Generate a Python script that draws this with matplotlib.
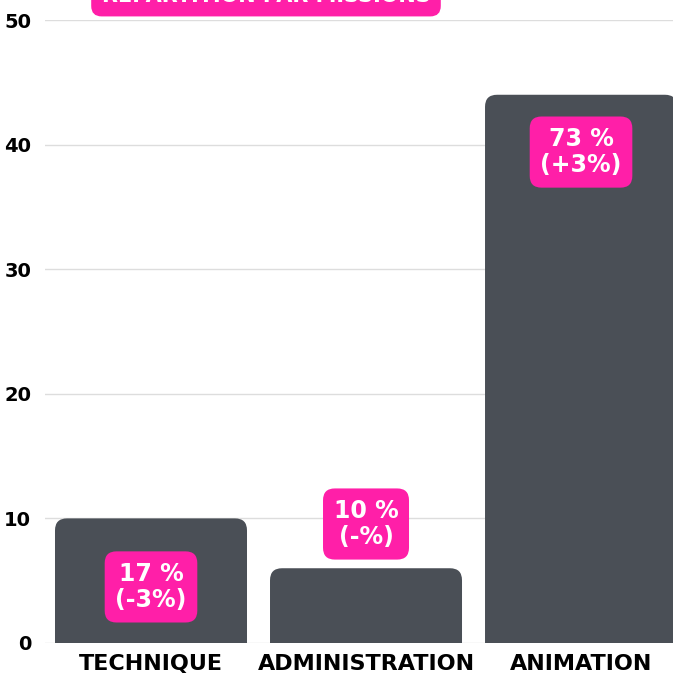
import numpy as np
import matplotlib.pyplot as plt
from matplotlib.patches import FancyBboxPatch

# donnees
categories = ["TECHNIQUE", "ADMINISTRATION", "ANIMATION"]
valeurs = [10, 6, 44]
labels = ["17 %\n(-3%)", "10 %\n(-%)", "73 %\n(+3%)"]
label_y = [4.5, 9.55, 39.4]
y_ticks = [0, 10, 20, 30, 40, 50]
titre = "RÉPARTITION PAR MISSIONS"

ROSE = "#FF1FA8"
GRIS = "#4A4F56"

W, H = 673, 675
fig = plt.figure(figsize=(W / 100, H / 100), dpi=100)
ax = fig.add_axes([45 / W, 32 / H, (W - 45) / W + 0.01, (643 - 20) / H])

ax.set_ylim(0, 50)
ax.set_xlim(-0.493, -0.493 + (W - 45 + 6.7) / 215)

# barres arrondies
x = np.arange(len(categories))
largeur = 0.893
px_x = 215.0
px_y = (643 - 20) / 50.0
r = 12 / px_x
for xi, v in zip(x, valeurs):
    p = FancyBboxPatch((xi - largeur / 2, -2), largeur, v + 2,
                       boxstyle=f"round,pad=0,rounding_size={r}",
                       mutation_aspect=px_x / px_y,
                       fc=GRIS, ec="none", zorder=2)
    ax.add_patch(p)

for xi, ly, t in zip(x, label_y, labels):
    ax.text(xi, ly, t, ha="center", va="center", color="white",
            fontsize=17, fontweight="bold", linespacing=1.1, zorder=3,
            bbox=dict(boxstyle="round,pad=0.45,rounding_size=0.5", fc=ROSE, ec="none"))

ax.set_yticks(y_ticks)
ax.set_xticks(x)
ax.set_xticklabels(categories)
ax.tick_params(axis="y", length=0, pad=10, labelsize=14)
ax.tick_params(axis="x", length=0, pad=8, labelsize=16)
for lab in ax.get_xticklabels() + ax.get_yticklabels():
    lab.set_fontweight("bold")
ax.grid(axis="y", color="#DDDDDD", linewidth=1, zorder=0)
ax.set_axisbelow(True)
for s in ax.spines.values():
    s.set_visible(False)

fig.text(266 / W, 1 + 4 / H, titre, ha="center", va="center", color="white",
         fontsize=15, fontweight="bold",
         bbox=dict(boxstyle="round,pad=0.5,rounding_size=0.5", fc=ROSE, ec="none"))

fig.savefig("out.png", dpi=100)
